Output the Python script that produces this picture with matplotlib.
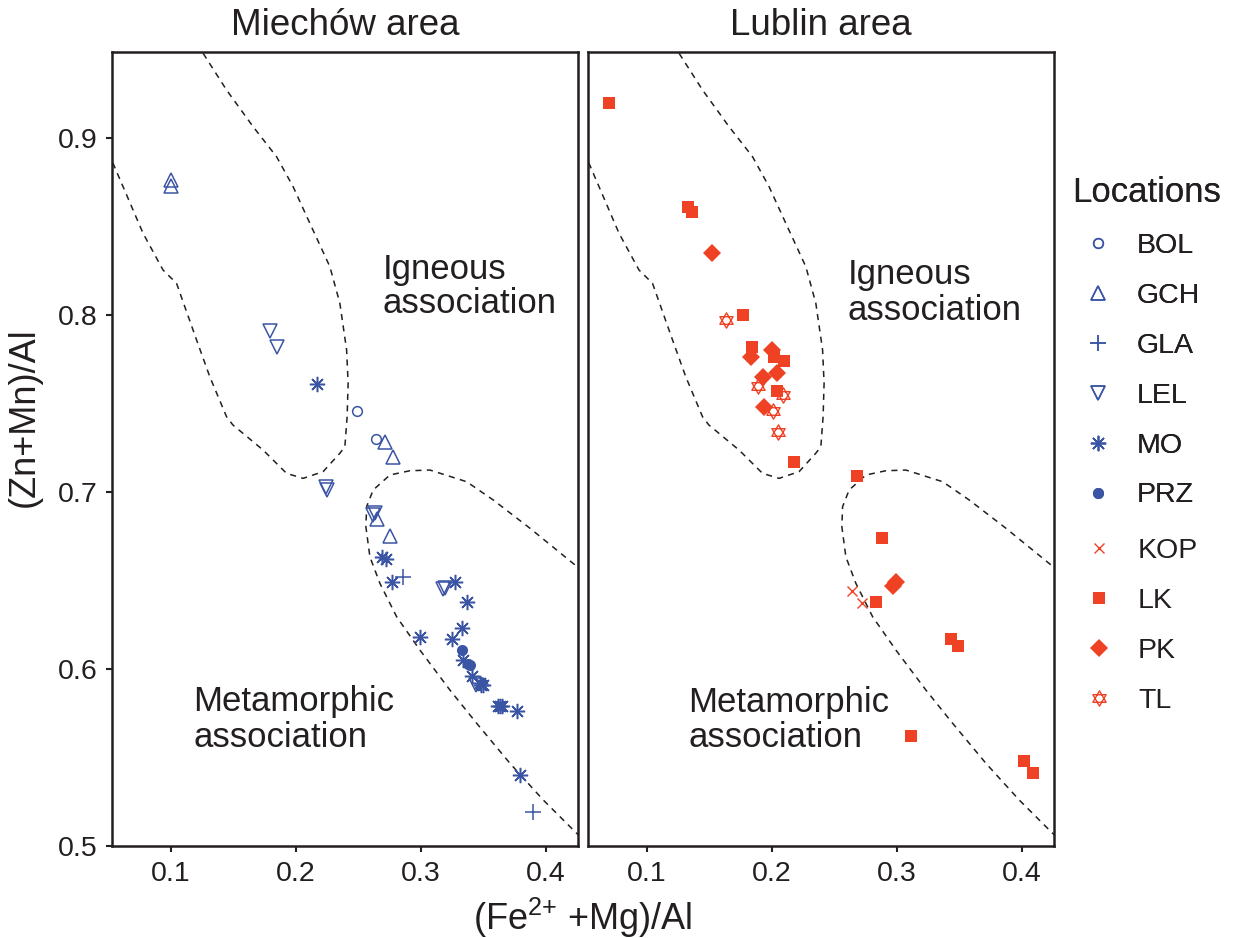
import matplotlib.pyplot as plt
from matplotlib.path import Path

plt.rcParams['font.family'] = ['Liberation Sans', 'DejaVu Sans']
plt.rcParams['mathtext.fontset'] = 'custom'
plt.rcParams['mathtext.rm'] = 'Liberation Sans'
plt.rcParams['mathtext.it'] = 'Liberation Sans:italic'

blue = '#3B55A5'
red = '#EF4123'
ink = '#231F20'

# Miechów area
bol_x = [0.249, 0.264]
bol_y = [0.746, 0.730]
gch_x = [0.100, 0.100, 0.271, 0.278, 0.265, 0.275]
gch_y = [0.876, 0.873, 0.728, 0.720, 0.685, 0.675]
gla_x = [0.286, 0.390]
gla_y = [0.652, 0.519]
lel_x = [0.179, 0.185, 0.224, 0.225, 0.262, 0.263, 0.318, 0.319, 0.344]
lel_y = [0.791, 0.782, 0.703, 0.701, 0.687, 0.688, 0.645, 0.646, 0.591]
mo_x = [0.217, 0.269, 0.272, 0.277, 0.327, 0.337, 0.299, 0.325, 0.333, 0.334,
        0.341, 0.347, 0.348, 0.350, 0.362, 0.363, 0.365, 0.377, 0.379]
mo_y = [0.761, 0.663, 0.662, 0.649, 0.649, 0.638, 0.618, 0.617, 0.623, 0.605,
        0.596, 0.592, 0.591, 0.591, 0.579, 0.579, 0.579, 0.576, 0.540]
prz_x = [0.333, 0.338, 0.339]
prz_y = [0.611, 0.603, 0.602]

# Lublin area
kop_x = [0.264, 0.272]
kop_y = [0.644, 0.637]
lk_x = [0.070, 0.133, 0.136, 0.177, 0.184, 0.202, 0.210, 0.204, 0.218, 0.268,
        0.288, 0.283, 0.343, 0.349, 0.311, 0.402, 0.409]
lk_y = [0.920, 0.861, 0.858, 0.800, 0.782, 0.776, 0.774, 0.757, 0.717, 0.709,
        0.674, 0.638, 0.617, 0.613, 0.562, 0.548, 0.541]
pk_x = [0.152, 0.183, 0.200, 0.204, 0.193, 0.194, 0.299, 0.297]
pk_y = [0.835, 0.776, 0.780, 0.767, 0.765, 0.748, 0.649, 0.647]
tl_x = [0.163, 0.189, 0.209, 0.201, 0.205]
tl_y = [0.797, 0.760, 0.755, 0.746, 0.734]

# field boundaries
igneous_x = [0.050, 0.0538, 0.0778, 0.0938, 0.1046, 0.1206, 0.1312, 0.1446, 0.1496,
             0.1738, 0.1926, 0.2058, 0.2218, 0.2352, 0.2392, 0.2410, 0.2418,
             0.2406, 0.2352, 0.2272, 0.2112, 0.1978, 0.1846, 0.1658, 0.1446,
             0.1258, 0.1213]
igneous_y = [0.892, 0.8857, 0.8462, 0.8254, 0.8179, 0.7859, 0.7651, 0.7425, 0.7379,
             0.7237, 0.7105, 0.7077, 0.7115, 0.7219, 0.7256, 0.7425, 0.7614,
             0.7802, 0.8066, 0.8273, 0.8518, 0.8725, 0.8894, 0.9064, 0.9271,
             0.9479, 0.953]
meta_x = [0.430, 0.4232, 0.3872, 0.3578, 0.3366, 0.3072, 0.2912, 0.2752, 0.2618,
          0.2566, 0.2560, 0.2592, 0.2672, 0.2806, 0.2992, 0.3232, 0.3446,
          0.3712, 0.3978, 0.4232, 0.430]
meta_y = [0.6547, 0.6588, 0.6795, 0.6955, 0.7058, 0.7124, 0.7120, 0.7096, 0.7011,
          0.6917, 0.6804, 0.6634, 0.6484, 0.6295, 0.6107, 0.5881, 0.5693,
          0.5467, 0.5260, 0.5081, 0.5035]

# star of David marker for TL
star_verts = [(0, 1), (-0.866, -0.5), (0.866, -0.5), (0, 1),
              (0, -1), (-0.866, 0.5), (0.866, 0.5), (0, -1)]
star_codes = [Path.MOVETO, Path.LINETO, Path.LINETO, Path.CLOSEPOLY] * 2
david = Path(star_verts, star_codes)

miechow = [
    ('BOL', bol_x, bol_y, dict(marker='o', ms=7, mfc='none', mec=blue, mew=1.1)),
    ('GCH', gch_x, gch_y, dict(marker='^', ms=10, mfc='none', mec=blue, mew=1.1)),
    ('GLA', gla_x, gla_y, dict(marker='+', ms=11, mec=blue, mew=1.1)),
    ('LEL', lel_x, lel_y, dict(marker='v', ms=10, mfc='none', mec=blue, mew=1.1)),
    ('MO', mo_x, mo_y, dict(marker=(8, 2, 0), ms=11, mec=blue, mew=1.1)),
    ('PRZ', prz_x, prz_y, dict(marker='o', ms=8, mfc=blue, mec=blue, mew=0)),
]
lublin = [
    ('KOP', kop_x, kop_y, dict(marker='x', ms=7, mec=red, mew=1.0)),
    ('LK', lk_x, lk_y, dict(marker='s', ms=9, mfc=red, mec=red, mew=0)),
    ('PK', pk_x, pk_y, dict(marker='D', ms=9, mfc=red, mec=red, mew=0)),
    ('TL', tl_x, tl_y, dict(marker=david, ms=11, mfc='none', mec=red, mew=1.0)),
]

fig = plt.figure(figsize=(12.35, 9.38), dpi=100)
ax1 = fig.add_axes([0.0907, 0.0981, 0.3773, 0.8465])
ax2 = fig.add_axes([0.4761, 0.0981, 0.3773, 0.8465])

handles = []
for ax, groups in [(ax1, miechow), (ax2, lublin)]:
    ax.plot(igneous_x, igneous_y, color=ink, lw=1.1, ls=(0, (4, 3.5)))
    ax.plot(meta_x, meta_y, color=ink, lw=1.1, ls=(0, (4, 3.5)))
    hs = []
    for name, xs, ys, st in groups:
        h, = ax.plot(xs, ys, ls='none', label=name, **st)
        hs.append(h)
    handles.append(hs)
    ax.set_xlim(0.053, 0.4256)
    ax.set_ylim(0.5, 0.9486)
    ax.set_xticks([0.1, 0.2, 0.3, 0.4])
    ax.set_xticklabels(['0.1', '0.2', '0.3', '0.4'])
    for s in ax.spines.values():
        s.set_linewidth(1.8)
        s.set_color(ink)
    ax.tick_params(direction='out', length=4.5, width=1.5, color=ink,
                   labelsize=20.5, labelcolor=ink, pad=6)

ax1.set_yticks([0.5, 0.6, 0.7, 0.8, 0.9])
ax1.set_yticklabels(['0.5', '0.6', '0.7', '0.8', '0.9'])
ax2.set_yticks([])

ax1.set_title('Miechów area', fontsize=26.5, color=ink, pad=12)
ax2.set_title('Lublin area', fontsize=26.5, color=ink, pad=12)

ax1.text(0.2696, 0.835, 'Igneous\nassociation', fontsize=25, color=ink,
         va='top', ha='left', linespacing=1.05)
ax2.text(0.2608, 0.832, 'Igneous\nassociation', fontsize=25, color=ink,
         va='top', ha='left', linespacing=1.1)
ax1.text(0.1178, 0.5910, 'Metamorphic\nassociation', fontsize=25, color=ink,
         va='top', ha='left', linespacing=1.1)
ax2.text(0.133, 0.5905, 'Metamorphic\nassociation', fontsize=25, color=ink,
         va='top', ha='left', linespacing=1.1)

fig.text(0.472, 0.021, r'(Fe$^{2{+}}$ +Mg)/Al', fontsize=26,
         color=ink, ha='center', va='center')
fig.text(0.02, 0.555, '(Zn+Mn)/Al', fontsize=26, color=ink, rotation=90,
         ha='center', va='center')

leg1 = fig.legend(handles[0], [h.get_label() for h in handles[0]],
                  loc='upper left', bbox_to_anchor=(0.868, 0.8124),
                  frameon=False, title='Locations', title_fontsize=25,
                  fontsize=20.5, labelspacing=0.84, handlelength=1.82,
                  handletextpad=0.46, borderpad=0, borderaxespad=0,
                  alignment='left')
for t in leg1.get_texts():
    t.set_color(ink)
leg1.get_title().set_color(ink)
fig.add_artist(leg1)
leg2 = fig.legend(handles[1], [h.get_label() for h in handles[1]],
                  loc='upper left', bbox_to_anchor=(0.8688, 0.4264),
                  frameon=False, fontsize=20.5, labelspacing=0.84,
                  handlelength=1.82, handletextpad=0.46, borderpad=0,
                  borderaxespad=0)
for t in leg2.get_texts():
    t.set_color(ink)

fig.savefig('out.png', dpi=100)
